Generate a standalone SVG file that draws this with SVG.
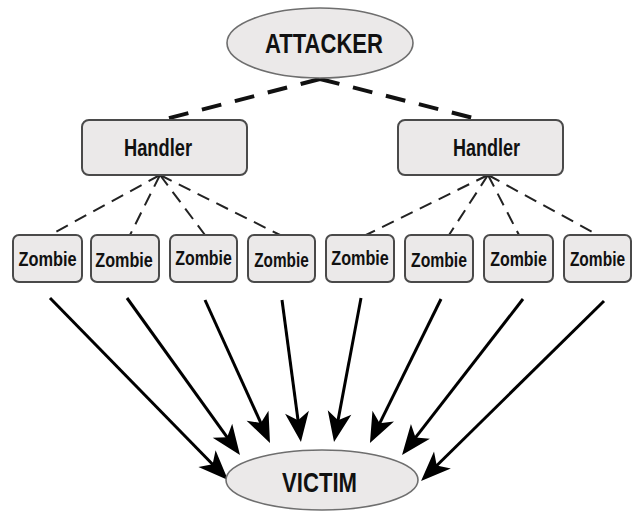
<svg xmlns="http://www.w3.org/2000/svg" width="636" height="519" viewBox="0 0 636 519">
<style>
.bg{fill:#ffffff}
.oval{fill:#ebe9e9;stroke:#6e6e6e;stroke-width:1.6}
.box{fill:#ebe9e9;stroke:#4a4a4a;stroke-width:2}
.t{font-family:"Liberation Sans",Arial,sans-serif;font-weight:bold;fill:#111;text-anchor:middle}
.big{font-size:27px}
.hd{font-size:24px}
.zb{font-size:21px}
.d1{stroke:#111;stroke-width:4;stroke-dasharray:20 14;fill:none}
.d2{stroke:#222;stroke-width:2;stroke-dasharray:13 8;fill:none}
.ar{stroke:#000;stroke-width:3;fill:none;marker-end:url(#ah)}
</style>
<defs>
<marker id="ah" markerUnits="userSpaceOnUse" markerWidth="40" markerHeight="30" refX="10" refY="15" orient="auto" overflow="visible">
<path d="M30,15 L0,3 L8,15 L0,27 Z" fill="#000"/>
</marker>
</defs>
<rect class="bg" x="0" y="0" width="636" height="519"/>
<g id="connectors">
<line class="d1" x1="320" y1="79" x2="158" y2="121"/>
<line class="d1" x1="320" y1="79" x2="485" y2="121"/>
<line class="d2" x1="160" y1="175" x2="50" y2="235"/>
<line class="d2" x1="160" y1="175" x2="130" y2="235"/>
<line class="d2" x1="160" y1="175" x2="205" y2="235"/>
<line class="d2" x1="160" y1="175" x2="280" y2="235"/>
<line class="d2" x1="488" y1="175" x2="366" y2="235"/>
<line class="d2" x1="488" y1="175" x2="449" y2="235"/>
<line class="d2" x1="488" y1="175" x2="519" y2="235"/>
<line class="d2" x1="488" y1="175" x2="598" y2="235"/>
<line class="ar" x1="50" y1="298" x2="214" y2="465.7"/>
<line class="ar" x1="127" y1="298" x2="228.3" y2="438.8"/>
<line class="ar" x1="205" y1="300" x2="261.7" y2="424.8"/>
<line class="ar" x1="282" y1="300" x2="298.3" y2="422.2"/>
<line class="ar" x1="361" y1="298" x2="337.7" y2="422.3"/>
<line class="ar" x1="441" y1="299" x2="378.8" y2="425.1"/>
<line class="ar" x1="523" y1="299" x2="414.3" y2="439.2"/>
<line class="ar" x1="604" y1="301" x2="435.3" y2="467"/>
</g>
<g id="attacker">
<ellipse class="oval" cx="320" cy="43" rx="93" ry="35"/>
<text class="t big" x="324" y="53" textLength="118" lengthAdjust="spacingAndGlyphs">ATTACKER</text>
</g>
<g id="handler1">
<rect class="box" x="82" y="120" width="165" height="55" rx="7"/>
<text class="t hd" x="158" y="155.5" textLength="68" lengthAdjust="spacingAndGlyphs">Handler</text>
</g>
<g id="handler2">
<rect class="box" x="398" y="120" width="165" height="55" rx="7"/>
<text class="t hd" x="486.5" y="155.5" textLength="67" lengthAdjust="spacingAndGlyphs">Handler</text>
</g>
<g id="zombie1">
<rect class="box" x="13" y="235" width="69" height="47" rx="6"/>
<text class="t zb" transform="translate(47.5,266) scale(0.78,1)">Zombie</text>
</g>
<g id="zombie2">
<rect class="box" x="91" y="235" width="68" height="47" rx="6"/>
<text class="t zb" transform="translate(124,267) scale(0.77,1)">Zombie</text>
</g>
<g id="zombie3">
<rect class="box" x="170" y="235" width="67" height="47" rx="6"/>
<text class="t zb" transform="translate(203.5,265) scale(0.76,1)">Zombie</text>
</g>
<g id="zombie4">
<rect class="box" x="248" y="235" width="67" height="47" rx="6"/>
<text class="t zb" transform="translate(281.5,267) scale(0.73,1)">Zombie</text>
</g>
<g id="zombie5">
<rect class="box" x="326" y="235" width="68" height="47" rx="6"/>
<text class="t zb" transform="translate(360,265) scale(0.77,1)">Zombie</text>
</g>
<g id="zombie6">
<rect class="box" x="405" y="235" width="68" height="47" rx="6"/>
<text class="t zb" transform="translate(439,267) scale(0.75,1)">Zombie</text>
</g>
<g id="zombie7">
<rect class="box" x="484" y="235" width="69" height="47" rx="6"/>
<text class="t zb" transform="translate(518.5,266) scale(0.76,1)">Zombie</text>
</g>
<g id="zombie8">
<rect class="box" x="564" y="235" width="67" height="47" rx="6"/>
<text class="t zb" transform="translate(597.5,266) scale(0.74,1)">Zombie</text>
</g>
<g id="victim">
<ellipse class="oval" cx="322" cy="480" rx="96" ry="30"/>
<text class="t big" x="319.5" y="492" textLength="75" lengthAdjust="spacingAndGlyphs">VICTIM</text>
</g>
</svg>
